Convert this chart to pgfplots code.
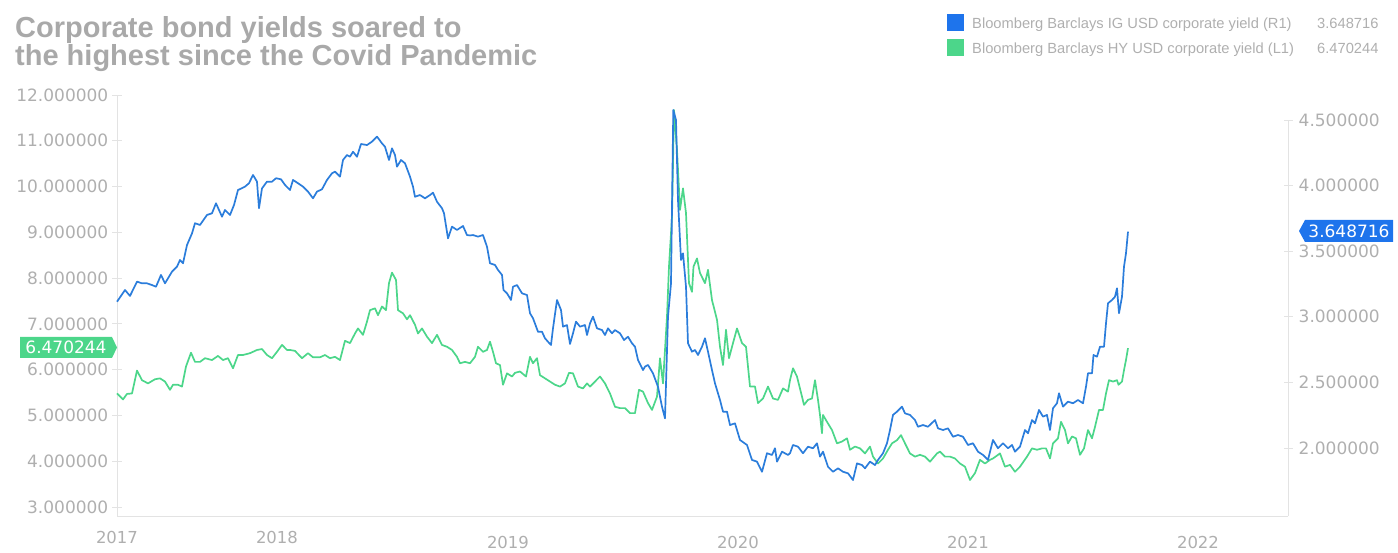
\documentclass[border=0pt]{standalone}
\usepackage{fontspec}
\setmainfont{Liberation Sans}
\newfontfamily\dejavu{DejaVu Sans}
\usepackage{pgfplots}
\pgfplotsset{compat=1.18}
\definecolor{igline}{HTML}{2B7DDB}
\definecolor{igsq}{HTML}{1E74EC}
\definecolor{hygreen}{HTML}{4CD68A}
\definecolor{lblgray}{HTML}{AFAFAF}
\definecolor{titlegray}{HTML}{A9A9A9}
\definecolor{axgray}{HTML}{E3E3E3}
\begin{document}
\begin{tikzpicture}
\path[use as bounding box] (0,0) rectangle (1398bp,553bp);
% ---------- HY (left axis) ----------
\begin{axis}[
  at={(117bp,37bp)}, anchor=south west, scale only axis,
  width=1171bp, height=421bp,
  xmin=117, xmax=1288, ymin=2.803, ymax=12,
  axis lines*=left,
  axis line style={axgray, line width=0.8bp},
  xtick={117,277}, xticklabels={2017,2018},
  extra x ticks={508,738,968,1198},
  extra x tick labels={2019,2020,2021,2022},
  extra x tick style={xticklabel style={yshift=-5bp}},
  x tick style={draw=none},
  xticklabel style={anchor=base, yshift=-23bp, font=\dejavu\fontsize{16.5bp}{17bp}\selectfont, text=lblgray, inner sep=0pt},
  ytick={3,4,5,6,7,8,9,10,11,12},
  y tick style={axgray, line width=0.8bp},
  tick align=center, major tick length=9bp,
  /pgf/number format/assume math mode=true,
  yticklabel={\pgfmathprintnumber[fixed,fixed zerofill,precision=6]{\tick}},
  yticklabel style={anchor=east, inner sep=0pt, xshift=-4bp, font=\dejavu\fontsize{17bp}{17bp}\selectfont, text=lblgray},
  clip=false,
]
\addplot[hygreen, line width=1.7bp, line join=round] coordinates {
(117,5.48) (123,5.35) (127,5.47) (132,5.48) (137,5.98) (142,5.77) (148,5.70) (155,5.79) (160,5.81) (165,5.74) (170,5.56) (173,5.67) (178,5.67) (182,5.63) (186,6.07) (191,6.37) (195,6.17) (200,6.17) (205,6.25) (212,6.21) (218,6.30) (223,6.21) (228,6.25) (233,6.03) (238,6.32) (243,6.32) (250,6.36) (257,6.43) (262,6.45) (267,6.32) (272,6.25) (277,6.39) (282,6.54) (287,6.43) (290,6.43)
(295,6.41) (302,6.25) (308,6.36) (313,6.27) (320,6.27) (325,6.32) (330,6.25) (335,6.28) (340,6.21) (345,6.63) (350,6.58) (355,6.79) (358,6.90) (363,6.76) (367,7.05) (370,7.30) (375,7.34) (378,7.19) (382,7.38) (386,7.30) (389,7.89) (392,8.12) (396,7.96) (398,7.30) (403,7.23) (407,7.10) (410,7.19) (415,6.98) (418,6.79) (422,6.90) (427,6.72) (432,6.58) (437,6.76) (442,6.54) (447,6.50) (452,6.43) (457,6.28) (460,6.14) (465,6.17) (470,6.14)
(475,6.28) (478,6.50) (483,6.39) (487,6.43) (490,6.61) (493,6.39) (496,6.14) (500,6.10) (503,5.67) (507,5.92) (512,5.85) (515,5.93) (520,5.96) (526,5.85) (530,6.28) (533,6.14) (537,6.25) (540,5.88) (545,5.81) (550,5.74) (555,5.67) (560,5.63) (565,5.70) (569,5.93) (573,5.92) (578,5.63) (583,5.59) (587,5.70) (590,5.63) (595,5.74) (600,5.85) (605,5.70) (610,5.48) (615,5.19) (620,5.16) (625,5.16) (630,5.05) (635,5.05) (639,5.56) (643,5.52) (648,5.27)
(652,5.12) (657,5.41) (660,6.25) (663,5.70) (667,7.16) (669,8.25) (672,9.34) (674,11.67) (677,10.80) (680,9.49) (683,9.96) (686,9.42) (689,7.89) (692,7.70) (693.5,8.25) (697,8.43) (700,8.11) (705,7.89) (708,8.18) (712,7.52) (717,7.09) (720,6.50) (723,6.10) (726,6.87) (729,6.25) (733,6.58) (737,6.90) (742,6.58) (746,6.50) (750,5.63) (755,5.63) (758,5.27) (763,5.37) (768,5.63) (773,5.37) (778,5.34) (783,5.59) (788,5.52) (790,5.77)
(793,6.03) (797,5.85) (802,5.41) (804,5.23) (808,5.34) (812,5.37) (815,5.77) (818,5.34) (820,5.01) (822,4.61) (823,5.01) (827,4.86) (832,4.68) (837,4.39) (842,4.43) (847,4.50) (850,4.25) (855,4.32) (860,4.28) (865,4.17) (870,4.32) (873,4.10) (878,3.95) (883,4.06) (888,4.25) (892,4.39) (897,4.46) (901,4.57) (905,4.39) (910,4.17) (915,4.10) (920,4.14) (925,4.10) (930,3.99) (937,4.17) (940,4.21) (945,4.10) (950,4.10) (955,4.06) (960,3.95) (965,3.88) (970,3.59) (975,3.74) (980,4.03) (985,3.95) (990,4.03)
(993,4.06) (1000,4.17) (1005,3.88) (1010,3.92) (1015,3.77) (1020,3.88) (1027,4.10) (1032,4.28) (1037,4.25) (1042,4.28) (1046,4.28) (1050,4.06) (1053,4.39) (1058,4.50) (1061,4.86) (1065,4.68) (1068,4.39) (1072,4.54) (1076,4.50) (1080,4.14) (1084,4.28) (1088,4.68) (1092,4.50) (1095,4.75) (1099,5.12) (1103,5.12) (1106,5.48) (1109,5.77) (1113,5.74) (1117,5.77) (1118.5,5.67) (1122,5.74) (1124,5.99) (1126,6.21) (1128,6.470244)
};
\end{axis}
% ---------- IG (right axis) ----------
\begin{axis}[
  at={(117bp,37bp)}, anchor=south west, scale only axis,
  width=1171bp, height=421bp,
  xmin=117, xmax=1288, ymin=1.4817, ymax=4.6905,
  axis x line=none, axis y line*=right,
  y axis line style={draw=none},
  ytick={2,2.5,3,3.5,4,4.5},
  y tick style={axgray, line width=0.8bp},
  tick align=center, major tick length=9bp,
  /pgf/number format/assume math mode=true,
  yticklabel={\pgfmathprintnumber[fixed,fixed zerofill,precision=6]{\tick}},
  yticklabel style={anchor=west, inner sep=0pt, xshift=6bp, font=\dejavu\fontsize{17bp}{17bp}\selectfont, text=lblgray},
  clip=false,
]
\draw[axgray, line width=0.8bp] (axis cs:1288,1.4817) -- (axis cs:1288,4.5);
\addplot[igline, line width=1.7bp, line join=round] coordinates {
(117,3.115) (125,3.204) (130,3.159) (137,3.268) (142,3.255) (147,3.255) (152,3.242) (156,3.229) (161,3.319) (165,3.255) (172,3.344) (177,3.382) (180,3.433) (183,3.408) (187,3.547) (192,3.636) (195,3.713) (200,3.700) (207,3.776) (212,3.789) (216,3.865) (222,3.763) (225,3.814) (230,3.776) (234,3.852) (238,3.966) (245,3.992) (249,4.018) (253,4.081) (257,4.030) (259,3.827) (262,3.979) (267,4.030) (272,4.030) (276,4.056) (281,4.048) (285,4.005) (290,3.966)
(293,4.043) (298,4.018) (303,3.992) (308,3.954) (313,3.903) (317,3.954) (322,3.972) (327,4.043) (332,4.094) (335,4.106) (340,4.068) (343,4.195) (347,4.233) (350,4.220) (353,4.258) (357,4.220) (361,4.317) (367,4.309) (372,4.335) (377,4.373) (382,4.322) (385,4.296) (389,4.195) (392,4.284) (395,4.233) (397,4.144) (401,4.195) (405,4.170) (410,4.068) (413,3.992) (415,3.915) (420,3.928) (425,3.903) (430,3.928) (433,3.946) (437,3.877) (442,3.827) (444,3.789) (448,3.598) (452,3.687) (457,3.662) (463,3.692) (467,3.623) (470,3.620)
(473,3.623) (478,3.611) (483,3.623) (487,3.534) (490,3.408) (495,3.395) (498,3.357) (502,3.319) (503.5,3.204) (507,3.179) (511,3.128) (513,3.229) (517,3.242) (522,3.179) (527,3.166) (530,3.027) (533,2.989) (538,2.886) (542,2.886) (545,2.836) (548,2.810) (551,2.785) (553,2.912) (557,3.128) (561,3.052) (563,2.925) (567,2.937) (570,2.793) (573,2.874) (576,2.963) (580,2.925) (585,2.937) (587,2.861) (590,2.950) (593,3.001) (597,2.912) (602,2.899) (605,2.861) (608,2.912) (612,2.874) (615,2.899) (620,2.874) (624,2.823) (628,2.848) (632,2.798) (635,2.772) (638,2.671) (643,2.594) (645,2.620) (648,2.633) (653,2.569) (658,2.467) (662,2.315) (665,2.226) (668,3.001) (671,3.255) (673.3,4.576) (676,4.500) (678,3.890) (681,3.433) (683,3.484) (686,3.229) (688,2.798) (692,2.734) (695,2.747) (698,2.709) (702,2.772) (705,2.836) (708,2.734) (712,2.594) (715,2.493) (720,2.366) (723,2.277) (727,2.277) (730,2.175) (735,2.188) (740,2.061) (747,2.023) (752,1.909) (757,1.896) (762,1.819) (767,1.960) (772,1.947) (775,1.998) (777,1.896) (782,1.972) (788,1.947)
(790,1.960) (793,2.023) (798,2.010) (803,1.960) (808,2.010) (813,1.998) (817,2.036) (820,1.934) (823,1.972) (828,1.857) (833,1.819) (838,1.845) (843,1.819) (848,1.807) (853,1.756) (857,1.883) (862,1.870) (865,1.845) (870,1.896) (875,1.870) (878,1.909) (883,1.960) (887,2.036) (890,2.137) (893,2.252) (897,2.277) (902,2.315) (905,2.264) (910,2.252) (915,2.213) (918,2.162) (923,2.175) (928,2.162) (935,2.213) (938,2.150) (943,2.137) (948,2.150) (953,2.086) (958,2.099) (963,2.086) (968,2.023) (973,2.036) (978,1.972) (983,1.947) (988,1.909)
(993,2.061) (998,1.998) (1003,2.036) (1008,1.998) (1012,2.023) (1015,1.972) (1020,2.010) (1025,2.137) (1028,2.112) (1032,2.213) (1035,2.188) (1039,2.290) (1043,2.239) (1047,2.252) (1050,2.137) (1053,2.303) (1057,2.341) (1059,2.417) (1063,2.315) (1068,2.353) (1073,2.341) (1078,2.366) (1083,2.341) (1086,2.467) (1088,2.569) (1092,2.569) (1093.5,2.709) (1097,2.696) (1100,2.772) (1104,2.772) (1106,2.950) (1108,3.103) (1112,3.128) (1115,3.153) (1117,3.217) (1119,3.027) (1122,3.153) (1124,3.382) (1126,3.484) (1128,3.648716)
};
\end{axis}
% ---------- title ----------
\node[anchor=base west, inner sep=0pt, text=titlegray, font=\fontsize{29bp}{30bp}\selectfont\bfseries] at (15bp,515bp) {Corporate bond yields soared to};
\node[anchor=base west, inner sep=0pt, text=titlegray, font=\fontsize{29bp}{30bp}\selectfont\bfseries] at (15bp,487bp) {the highest since the Covid Pandemic};
% ---------- legend ----------
\fill[igsq] (946.5bp,521.5bp) rectangle (964bp,539bp);
\fill[hygreen] (946.5bp,496.5bp) rectangle (964bp,514bp);
\node[anchor=base west, inner sep=0pt, text=lblgray, font=\fontsize{14.7bp}{15bp}\selectfont] at (972bp,524.7bp) {Bloomberg Barclays IG USD corporate yield (R1)};
\node[anchor=base west, inner sep=0pt, text=lblgray, font=\fontsize{14.7bp}{15bp}\selectfont] at (972bp,499.7bp) {Bloomberg Barclays HY USD corporate yield (L1)};
\node[anchor=base west, inner sep=0pt, text=lblgray, font=\fontsize{14.7bp}{15bp}\selectfont] at (1317bp,524.7bp) {3.648716};
\node[anchor=base west, inner sep=0pt, text=lblgray, font=\fontsize{14.7bp}{15bp}\selectfont] at (1317bp,499.7bp) {6.470244};
% ---------- last value flags ----------
\fill[hygreen] (20bp,195bp) -- (112bp,195bp) -- (117bp,205.5bp) -- (112bp,216bp) -- (20bp,216bp) -- cycle;
\node[inner sep=0pt, text=white, font=\dejavu\fontsize{17bp}{17bp}\selectfont] at (66bp,205.5bp) {6.470244};
\fill[igsq] (1393bp,311bp) -- (1305bp,311bp) -- (1299bp,322bp) -- (1305bp,333bp) -- (1393bp,333bp) -- cycle;
\node[inner sep=0pt, text=white, font=\dejavu\fontsize{17bp}{17bp}\selectfont] at (1349bp,322bp) {3.648716};
\end{tikzpicture}
\end{document}
